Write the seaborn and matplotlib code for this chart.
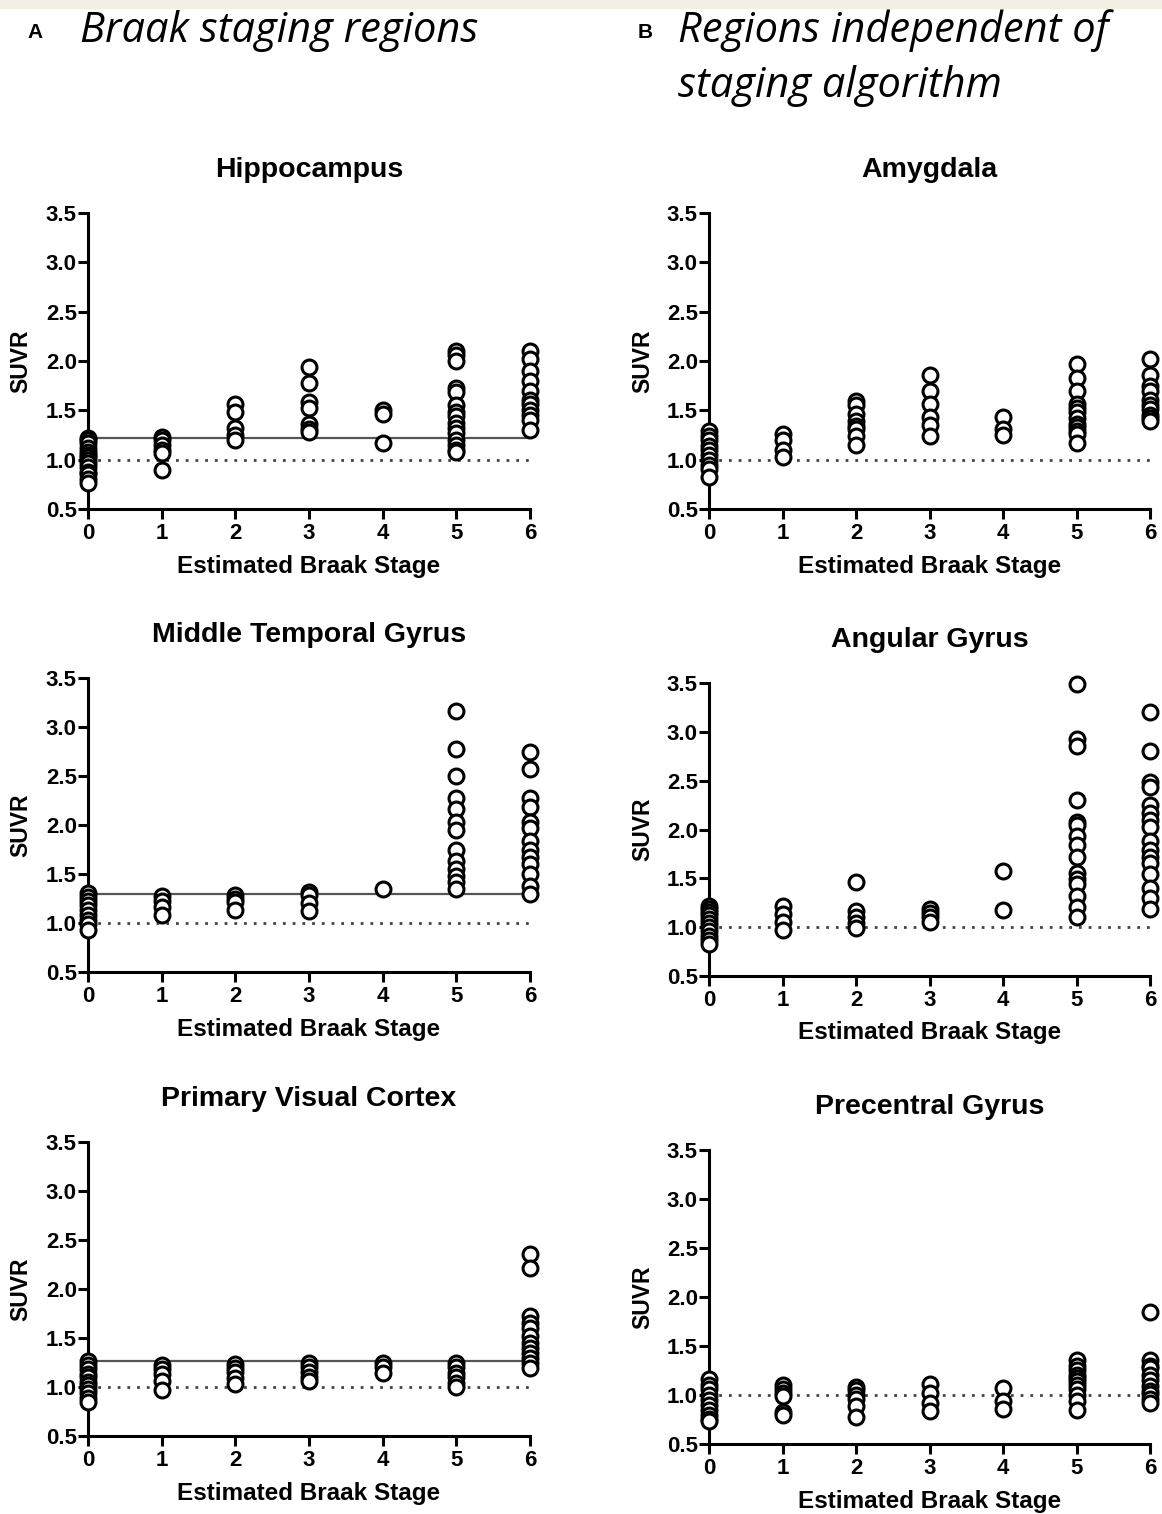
import numpy as np
import pandas as pd
import matplotlib
matplotlib.use('Agg')
import matplotlib.pyplot as plt
import seaborn as sns
from matplotlib.patches import Rectangle

stages = [0, 1, 2, 3, 4, 5, 6]

# SUVR values per estimated Braak stage (0..6)
hippocampus = [
    [1.22, 1.2, 1.17, 1.12, 1.08, 1.05, 1.03, 1.0, 0.97, 0.93, 0.88, 0.85, 0.8, 0.76],
    [1.23, 1.2, 1.15, 1.1, 1.07, 0.9],
    [1.56, 1.48, 1.32, 1.25, 1.2],
    [1.94, 1.78, 1.58, 1.52, 1.36, 1.31, 1.28],
    [1.5, 1.46, 1.17],
    [2.1, 2.06, 2.0, 1.73, 1.69, 1.55, 1.48, 1.44, 1.37, 1.32, 1.27, 1.2, 1.15, 1.1, 1.08],
    [2.1, 2.02, 1.9, 1.8, 1.7, 1.6, 1.56, 1.5, 1.45, 1.4, 1.3],
]
amygdala = [
    [1.29, 1.24, 1.2, 1.14, 1.1, 1.05, 1.0, 0.95, 0.91, 0.82],
    [1.26, 1.2, 1.1, 1.03],
    [1.59, 1.55, 1.46, 1.39, 1.34, 1.31, 1.24, 1.15],
    [1.86, 1.7, 1.56, 1.43, 1.35, 1.24],
    [1.43, 1.31, 1.25],
    [1.97, 1.83, 1.7, 1.56, 1.52, 1.48, 1.42, 1.36, 1.33, 1.29, 1.26, 1.17],
    [2.02, 1.86, 1.75, 1.7, 1.6, 1.55, 1.51, 1.45, 1.42, 1.39],
]
middle_temporal = [
    [1.31, 1.27, 1.22, 1.18, 1.13, 1.08, 1.03, 0.99, 0.93],
    [1.28, 1.22, 1.16, 1.08],
    [1.29, 1.25, 1.21, 1.13],
    [1.32, 1.29, 1.2, 1.12],
    [1.35],
    [3.16, 2.78, 2.5, 2.28, 2.16, 2.03, 1.95, 1.74, 1.63, 1.55, 1.48, 1.42, 1.35],
    [2.74, 2.57, 2.28, 2.18, 2.03, 1.97, 1.84, 1.75, 1.67, 1.6, 1.5, 1.38, 1.3],
]
angular = [
    [1.22, 1.19, 1.16, 1.12, 1.08, 1.04, 1.0, 0.96, 0.91, 0.87, 0.83],
    [1.22, 1.13, 1.05, 0.97],
    [1.46, 1.17, 1.1, 1.04, 0.99],
    [1.19, 1.15, 1.1, 1.05],
    [1.58, 1.18],
    [3.49, 2.93, 2.85, 2.3, 2.08, 2.05, 1.93, 1.84, 1.72, 1.55, 1.49, 1.44, 1.32, 1.21, 1.1],
    [3.2, 2.8, 2.49, 2.44, 2.25, 2.17, 2.1, 2.03, 1.88, 1.79, 1.72, 1.66, 1.54, 1.4, 1.3, 1.19],
]
visual = [
    [1.27, 1.22, 1.18, 1.13, 1.1, 1.05, 1.02, 0.98, 0.94, 0.89, 0.85],
    [1.22, 1.18, 1.13, 1.06, 0.97],
    [1.23, 1.19, 1.15, 1.09, 1.03],
    [1.25, 1.2, 1.15, 1.1, 1.06],
    [1.24, 1.2, 1.14],
    [1.24, 1.2, 1.14, 1.1, 1.04, 1.0],
    [2.36, 2.21, 1.72, 1.65, 1.6, 1.52, 1.45, 1.4, 1.35, 1.3, 1.24, 1.19],
]
precentral = [
    [1.16, 1.1, 1.06, 1.0, 0.95, 0.9, 0.85, 0.8, 0.76, 0.73],
    [1.1, 1.06, 1.02, 0.99, 0.83, 0.8],
    [1.08, 1.05, 1.0, 0.96, 0.89, 0.78],
    [1.11, 1.02, 0.92, 0.84],
    [1.07, 0.94, 0.86],
    [1.36, 1.3, 1.26, 1.2, 1.17, 1.14, 1.1, 1.06, 1.0, 0.94, 0.85],
    [1.85, 1.36, 1.3, 1.28, 1.2, 1.15, 1.09, 1.04, 1.01, 0.96, 0.92],
]

titles = ['Hippocampus', 'Amygdala', 'Middle Temporal Gyrus', 'Angular Gyrus',
          'Primary Visual Cortex', 'Precentral Gyrus']
panels = [hippocampus, amygdala, middle_temporal, angular, visual, precentral]
# threshold lines (only the Braak staging regions have one)
thresholds = [1.22, None, 1.30, None, 1.27, None]

sns.set_theme(style='white')
plt.rcParams['font.family'] = ['Liberation Sans', 'DejaVu Sans']
plt.rcParams['text.color'] = 'black'
plt.rcParams['axes.labelcolor'] = 'black'
plt.rcParams['xtick.color'] = 'black'
plt.rcParams['ytick.color'] = 'black'

fig = plt.figure(figsize=(11.62, 15.14), dpi=100)
fig.patches.append(Rectangle((0, 1 - 8 / 1514), 1, 8 / 1514, transform=fig.transFigure,
                             color='#f3efe4', zorder=0))

# axes boxes in pixels: left, top, right, bottom
boxes = [(88, 213, 530, 509), (709, 213, 1150, 509),
         (88, 678, 530, 972), (709, 683, 1150, 976),
         (88, 1142, 530, 1436), (709, 1150, 1150, 1444)]

W, H = 1162, 1514
for i, (vals, title, thr, box) in enumerate(zip(panels, titles, thresholds, boxes)):
    l, t, r, b = box
    ax = fig.add_axes([l / W, 1 - b / H, (r - l) / W, (b - t) / H])
    df = pd.DataFrame({'stage': np.repeat(stages, [len(v) for v in vals]),
                       'suvr': np.concatenate(vals)})
    ax.axhline(1.0, color='#444444', lw=2, ls=(0, (1, 2.5)), zorder=1)
    if thr is not None:
        ax.axhline(thr, color='#555555', lw=1.6, zorder=1)
    sns.scatterplot(data=df, x='stage', y='suvr', ax=ax, marker='o', s=115,
                    facecolor='white', edgecolor='black', linewidth=2.2,
                    clip_on=False, zorder=3, legend=False)
    ax.set_xlim(0, 6)
    ax.set_ylim(0.5, 3.5)
    ax.set_xticks(stages)
    ax.set_yticks(np.arange(0.5, 3.51, 0.5))
    ax.set_yticklabels([f'{v:.1f}' for v in np.arange(0.5, 3.51, 0.5)])
    for side in ['top', 'right']:
        ax.spines[side].set_visible(False)
    for side in ['left', 'bottom']:
        ax.spines[side].set_linewidth(2.2)
        ax.spines[side].set_color('black')
    ax.tick_params(axis='both', direction='out', length=7, width=2.2, color='black',
                   labelsize=16, bottom=True, left=True)
    ax.tick_params(axis='x', pad=3)
    ax.tick_params(axis='y', pad=1)
    for lab in ax.get_xticklabels() + ax.get_yticklabels():
        lab.set_fontweight('bold')
    ax.set_title(title, fontsize=20.5, fontweight='bold', pad=26)
    ax.set_xlabel('Estimated Braak Stage', fontsize=17.5, fontweight='bold')
    ax.set_ylabel('SUVR', fontsize=16.5, fontweight='bold')
    ax.xaxis.set_label_coords(0.5, -0.155)
    ax.yaxis.set_label_coords(-0.125, 0.5)
    ax.set_facecolor('white')

fig.text(27 / W, 1 - 32 / H, 'A', fontsize=15, fontweight='bold', va='center')
fig.text(80 / W, 1 - 42 / H, 'Braak staging regions', fontsize=30, style='italic',
         family='Open Sans', va='baseline')
fig.text(638 / W, 1 - 32 / H, 'B', fontsize=15, fontweight='bold', va='center')
fig.text(678 / W, 1 - 42 / H, 'Regions independent of', fontsize=30, style='italic',
         family='Open Sans', va='baseline')
fig.text(678 / W, 1 - 97 / H, 'staging algorithm', fontsize=30, style='italic',
         family='Open Sans', va='baseline')

fig.savefig('out.png', dpi=100, facecolor='white')
